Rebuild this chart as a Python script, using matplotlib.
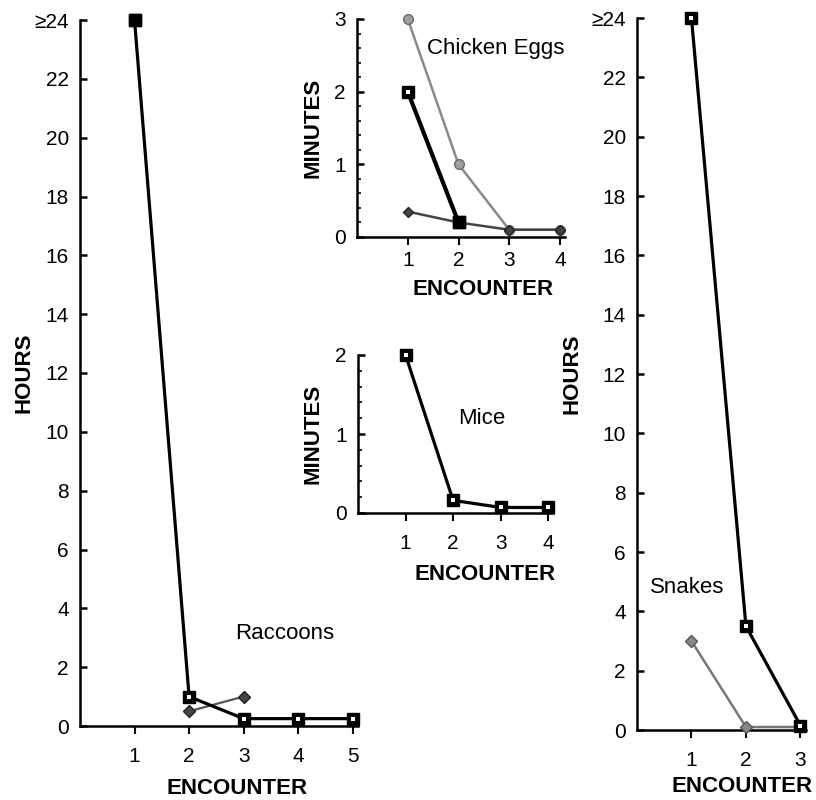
import numpy as np
import matplotlib.pyplot as plt
from matplotlib.ticker import MultipleLocator

plt.rcParams['font.family'] = ['Liberation Sans', 'DejaVu Sans']

# Raccoons (hours)
rac_x_sq = [1, 2, 3, 4, 5]
rac_y_sq = [24, 1.0, 0.25, 0.25, 0.25]
rac_x_dia = [2, 3]
rac_y_dia = [0.5, 1.0]

# Chicken eggs (minutes)
egg_x = [1, 2, 3, 4]
egg_sq = [2.0, 0.2]
egg_hatch = [3.0, 1.0, 0.1, 0.1]
egg_dia = [0.35, 0.2, 0.1, 0.1]

# Mice (minutes)
mice_x = [1, 2, 3, 4]
mice_sq = [2.0, 0.16, 0.07, 0.07]

# Snakes (hours)
snk_x = [1, 2, 3]
snk_sq = [24, 3.5, 0.15]
snk_dia = [3.0, 0.1, 0.1]

hour_ticks = list(range(0, 25, 2))
hour_labels = [str(v) for v in hour_ticks[:-1]] + ['\u226524']

fig = plt.figure(figsize=(8.16, 8.0), dpi=100)

ax_r = fig.add_axes([0.098, 0.0925, 0.341, 0.8825])
ax_e = fig.add_axes([0.4375, 0.70375, 0.255, 0.2725])
ax_m = fig.add_axes([0.4387, 0.35875, 0.239, 0.1975])
ax_s = fig.add_axes([0.7806, 0.0875, 0.207, 0.89])

for ax in (ax_r, ax_e, ax_m, ax_s):
    ax.spines['top'].set_visible(False)
    ax.spines['right'].set_visible(False)
    ax.spines['left'].set_linewidth(1.8)
    ax.spines['bottom'].set_linewidth(1.8)
    ax.tick_params(axis='y', direction='in', length=5, width=1.8, pad=8, labelsize=15)
    ax.tick_params(axis='x', direction='out', length=6, width=1.5, pad=9, labelsize=15)


def squares(ax, x, y, lw=2.3):
    ax.plot(x, y, color='black', lw=lw, marker='s', ms=8, mfc='black', mec='black',
            clip_on=False, zorder=4)
    ax.plot(x, y, ls='none', marker='s', ms=2.2, mfc='white', mew=0,
            clip_on=False, zorder=5)


def labels(ax, ylab, ypos, xpos):
    ax.set_ylabel(ylab, fontsize=16, fontweight='bold', va='center')
    ax.yaxis.set_label_coords(*ypos)
    ax.set_xlabel('ENCOUNTER', fontsize=16, fontweight='bold', va='center')
    ax.xaxis.set_label_coords(*xpos)


# Raccoons
ax_r.plot(rac_x_dia, rac_y_dia, color='#555555', lw=1.6, marker='D', ms=6,
          mfc='#444444', mec='#222222', clip_on=False, zorder=3)
squares(ax_r, rac_x_sq, rac_y_sq)
ax_r.plot(rac_x_sq[:1], rac_y_sq[:1], ls='none', marker='s', ms=8, mfc='black',
          mec='black', clip_on=False, zorder=6)
ax_r.set_xlim(0, 5.1)
ax_r.set_ylim(0, 24)
ax_r.set_xticks(rac_x_sq)
ax_r.set_yticks(hour_ticks)
ax_r.set_yticklabels(hour_labels)
labels(ax_r, 'HOURS', (-0.20, 0.5), (0.565, -0.088))
ax_r.text(2.84, 3.16, 'Raccoons', fontsize=16, va='center', ha='left')

# Chicken eggs
ax_e.plot(egg_x, egg_hatch, color='#8a8a8a', lw=1.8, marker='o', ms=7,
          mfc='#a0a0a0', mec='#6a6a6a', clip_on=False, zorder=3)
ax_e.plot(egg_x, egg_dia, color='#444444', lw=1.8, marker='D', ms=5,
          mfc='#444444', mec='#222222', clip_on=False, zorder=3)
squares(ax_e, egg_x[:2], egg_sq, lw=3)
ax_e.plot(egg_x[1:2], egg_sq[1:], ls='none', marker='s', ms=8, mfc='black',
          mec='black', clip_on=False, zorder=6)
ax_e.set_xlim(0, 4.1)
ax_e.set_ylim(0, 3)
ax_e.set_xticks(egg_x)
ax_e.set_yticks([0, 1, 2, 3])
ax_e.yaxis.set_minor_locator(MultipleLocator(0.2))
ax_e.tick_params(axis='y', which='minor', direction='in', length=3, width=1.2)
ax_e.tick_params(axis='x', pad=4)
labels(ax_e, 'MINUTES', (-0.21, 0.5), (0.606, -0.243))
ax_e.text(1.38, 2.6, 'Chicken Eggs', fontsize=16, va='center', ha='left')

# Mice
squares(ax_m, mice_x, mice_sq)
ax_m.set_xlim(0, 4.1)
ax_m.set_ylim(0, 2)
ax_m.set_xticks(mice_x)
ax_m.set_yticks([0, 1, 2])
ax_m.yaxis.set_minor_locator(MultipleLocator(0.2))
ax_m.tick_params(axis='y', which='minor', direction='in', length=3, width=1.2)
labels(ax_m, 'MINUTES', (-0.23, 0.5), (0.65, -0.39))
ax_m.text(2.1, 1.2, 'Mice', fontsize=16, va='center', ha='left')

# Snakes
ax_s.plot(snk_x, snk_dia, color='#777777', lw=1.8, marker='D', ms=6,
          mfc='#888888', mec='#555555', clip_on=False, zorder=3)
squares(ax_s, snk_x, snk_sq)
ax_s.set_xlim(0, 3.1)
ax_s.set_ylim(0, 24)
ax_s.set_xticks(snk_x)
ax_s.set_yticks(hour_ticks)
ax_s.set_yticklabels(hour_labels)
labels(ax_s, 'HOURS', (-0.385, 0.5), (0.62, -0.08))
ax_s.text(0.24, 4.8, 'Snakes', fontsize=16, va='center', ha='left')

fig.savefig('out.png', dpi=100)
